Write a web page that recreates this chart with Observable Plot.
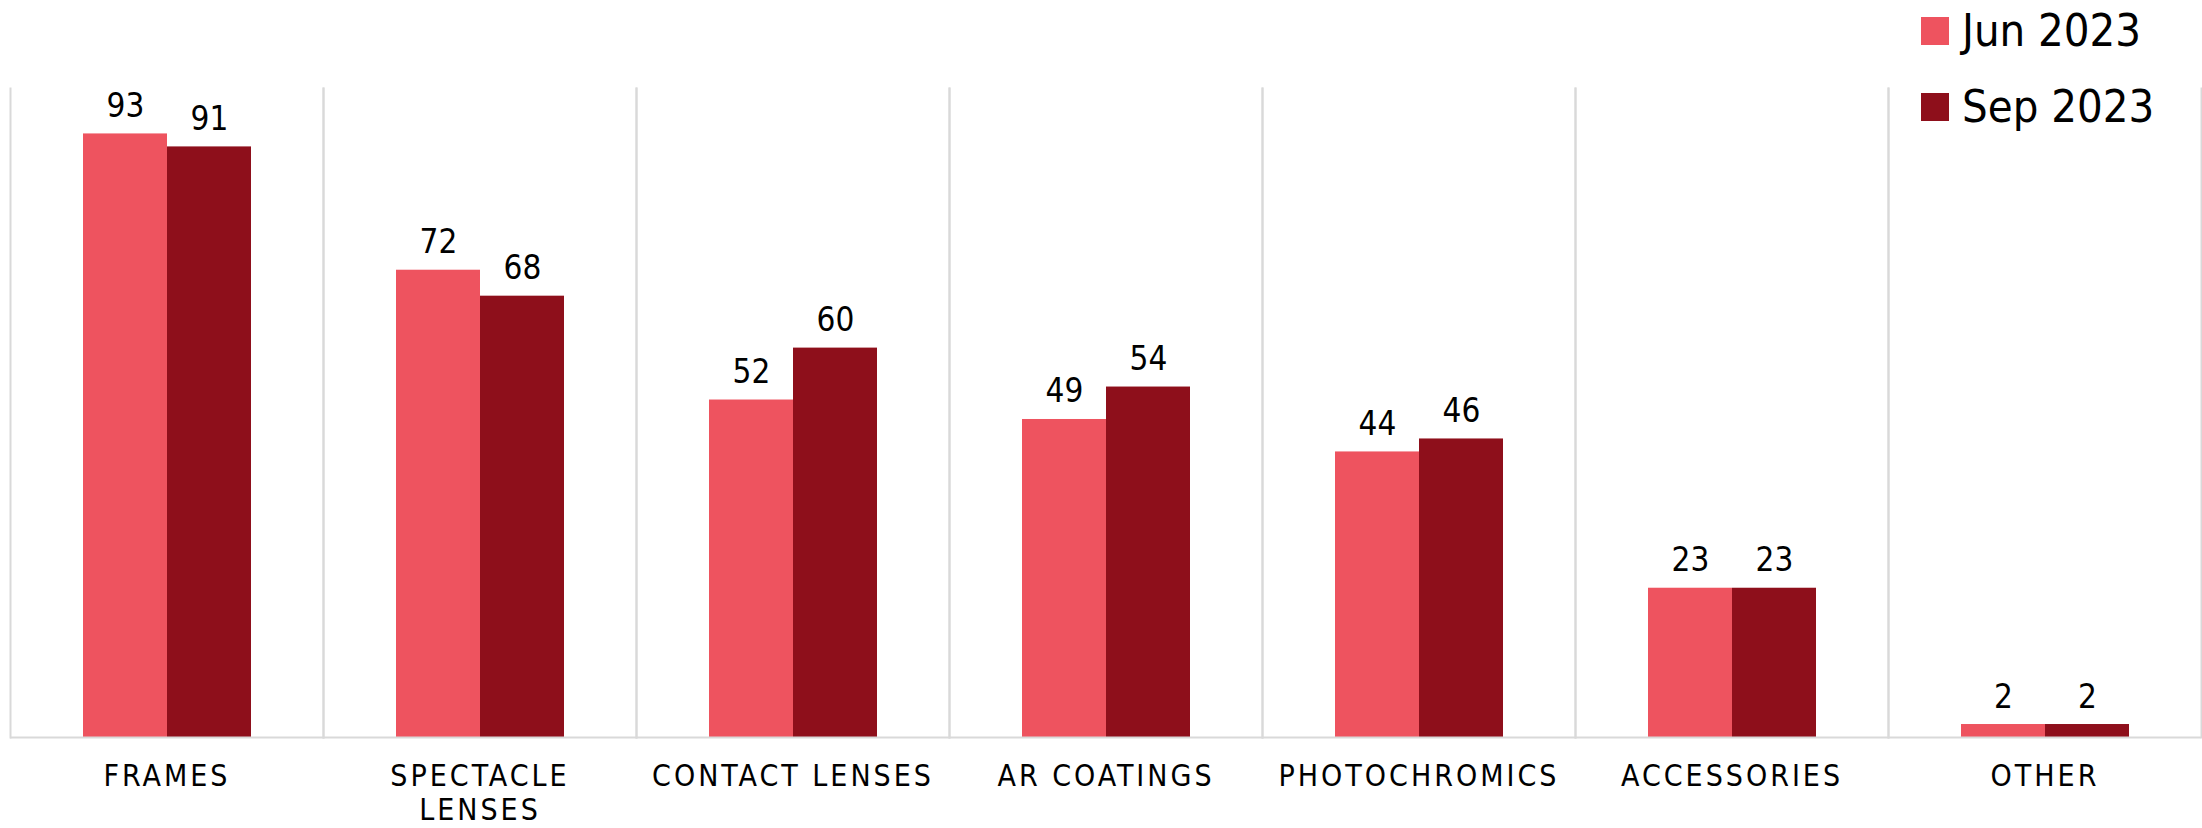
<!DOCTYPE html>
<html>
<head>
<meta charset="utf-8">
<script src="https://cdn.jsdelivr.net/npm/d3@7"></script>
<script src="https://cdn.jsdelivr.net/npm/@observablehq/plot@0.6"></script>
<style>
  html, body { margin: 0; padding: 0; background: #fff; }
  body { font-family: "Liberation Sans Narrow", "DejaVu Sans Condensed", "Arial Narrow", sans-serif; }
  #wrap { position: relative; width: 2202px; height: 828px; }
  #legend { position: absolute; left: 1921px; top: 10px; }
  .item { display: flex; align-items: center; height: 42px; margin-bottom: 34px; }
  .sw { width: 28px; height: 28px; margin-right: 13px; }
  .lab { font-size: 45px; color: #000; line-height: 42px; }
  .fxaxis text { letter-spacing: 3px; }
  svg { display: block; }
</style>
</head>
<body>
<div id="wrap"><div id="legend"></div></div>
<script>
const categories = ["FRAMES", "SPECTACLE LENSES", "CONTACT LENSES", "AR COATINGS", "PHOTOCHROMICS", "ACCESSORIES", "OTHER"];
const series = ["Jun 2023", "Sep 2023"];
const jun2023 = [93, 72, 52, 49, 44, 23, 2];
const sep2023 = [91, 68, 60, 54, 46, 23, 2];
const colors = ["#EE535F", "#8E0F1B"];

const rows = [];
categories.forEach((c, i) => {
  rows.push({category: c, series: series[0], value: jun2023[i]});
  rows.push({category: c, series: series[1], value: sep2023[i]});
});

const font = '"Liberation Sans Narrow", "DejaVu Sans Condensed", "Arial Narrow", sans-serif';

const chart = Plot.plot({
  width: 2202,
  height: 828,
  marginLeft: 8,
  marginRight: 0,
  marginTop: 88,
  marginBottom: 91,
  style: {fontFamily: font, background: "#fff"},
  fx: {domain: categories, padding: 0, label: null},
  x: {domain: series, paddingInner: 0, paddingOuter: 0.863, axis: null},
  y: {domain: [0, 100], axis: null},
  color: {domain: series, range: colors},
  marks: [
    Plot.frame({anchor: "left", stroke: "#d9d9d9", strokeWidth: 2, strokeOpacity: 1}),
    Plot.frame({anchor: "right", stroke: "#d9d9d9", strokeWidth: 2, strokeOpacity: 1}),
    Plot.barY(rows, {fx: "category", x: "series", y: "value", fill: "series", inset: 0}),
    Plot.ruleY([0], {stroke: "#d9d9d9", strokeWidth: 2}),
    Plot.text(rows, {fx: "category", x: "series", y: "value", text: d => String(d.value), dy: -17, lineAnchor: "bottom", fontSize: 33, fill: "#000"}),
    Plot.axisFx({
      anchor: "bottom",
      tickSize: 0,
      tickPadding: 25,
      fontSize: 30,
      lineHeight: 1.12,
      label: null,
      className: "fxaxis",
      tickFormat: d => d === "SPECTACLE LENSES" ? "SPECTACLE\nLENSES" : d,
      fill: "#000"
    })
  ]
});

const wrap = document.getElementById("wrap");
wrap.insertBefore(chart, wrap.firstChild);

const legend = document.getElementById("legend");
series.forEach((s, i) => {
  const it = document.createElement("div");
  it.className = "item";
  const sw = document.createElement("div");
  sw.className = "sw";
  sw.style.background = colors[i];
  const lab = document.createElement("span");
  lab.className = "lab";
  lab.textContent = s;
  it.appendChild(sw);
  it.appendChild(lab);
  legend.appendChild(it);
});
</script>
</body>
</html>
